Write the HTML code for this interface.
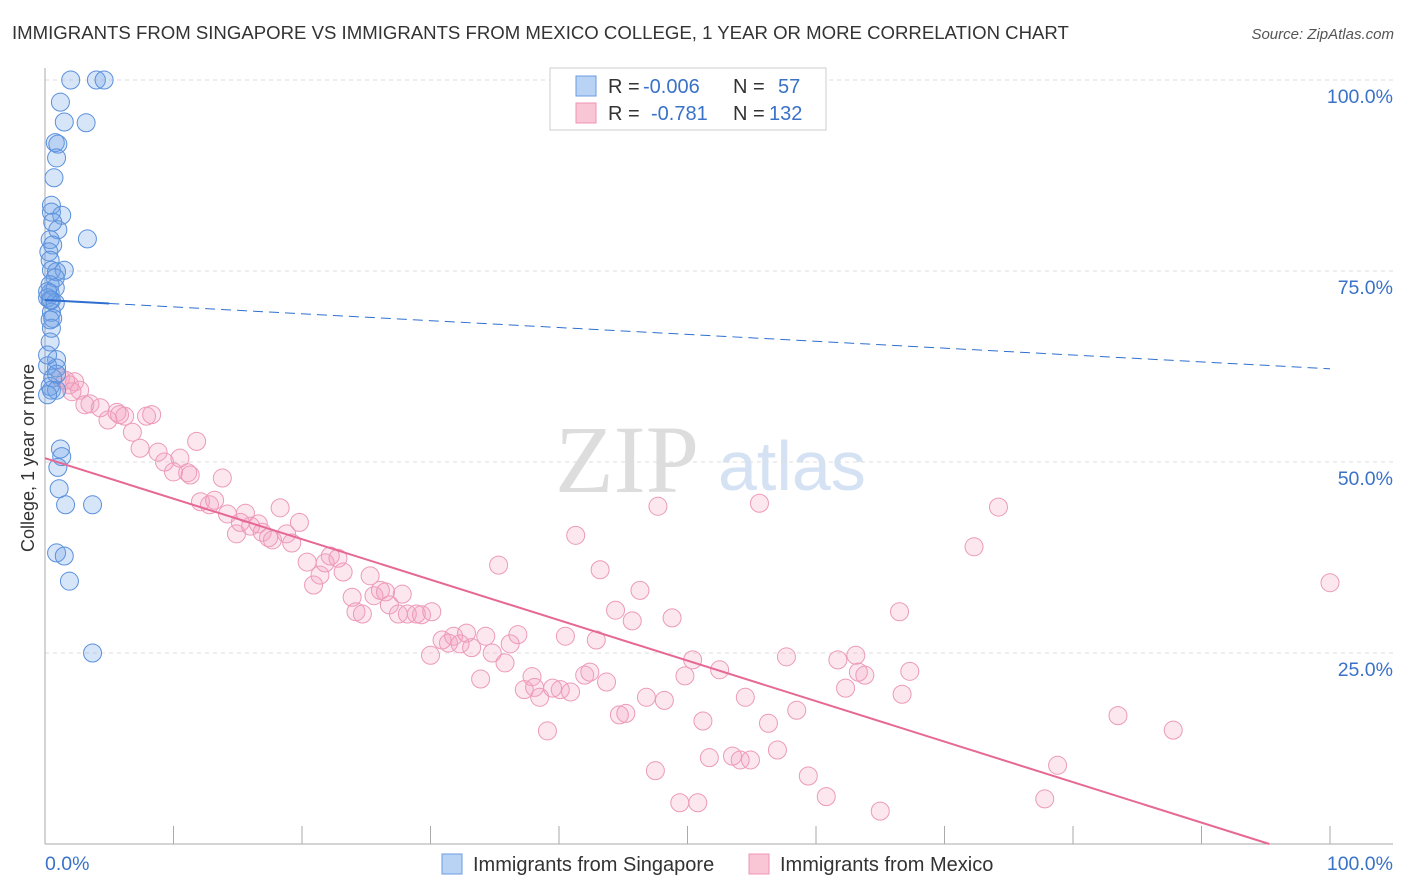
<!DOCTYPE html>
<html><head><meta charset="utf-8"><style>
body{margin:0;background:#fff;font-family:"Liberation Sans",sans-serif;}
#wrap{position:relative;width:1406px;height:892px;overflow:hidden;}
</style></head><body>
<div id="wrap">
<svg id="svg" width="1406" height="892" xmlns="http://www.w3.org/2000/svg">
<text x="12" y="39" font-size="18.6" fill="#333">IMMIGRANTS FROM SINGAPORE VS IMMIGRANTS FROM MEXICO COLLEGE, 1 YEAR OR MORE CORRELATION CHART</text>
<text x="1394" y="39" font-size="15" fill="#555" font-style="italic" text-anchor="end">Source: ZipAtlas.com</text>
<text x="555" y="492" font-size="96" fill="#ddd" font-family="Liberation Serif,serif">ZIP</text>
<text x="718" y="490" font-size="70" fill="#d4e2f4">atlas</text>
<text transform="translate(34,458) rotate(-90)" font-size="18" fill="#333" text-anchor="middle">College, 1 year or more</text>
<g id="grid"></g><g id="marks"></g>
<g>
<rect x="550" y="68" width="276" height="62" fill="#fff" stroke="#ccc"/>
<rect x="576" y="76" width="20" height="20" fill="#b9d3f5" stroke="#6a9be0"/>
<rect x="576" y="103" width="20" height="20" fill="#f9c6d6" stroke="#ee94b2"/>
<text x="608" y="93" font-size="20" fill="#333">R =</text>
<text x="643" y="93" font-size="20" fill="#3a72c8">-0.006</text>
<text x="733" y="93" font-size="20" fill="#333">N =</text>
<text x="778" y="93" font-size="20" fill="#3a72c8">57</text>
<text x="608" y="120" font-size="20" fill="#333">R =</text>
<text x="651" y="120" font-size="20" fill="#3a72c8">-0.781</text>
<text x="733" y="120" font-size="20" fill="#333">N =</text>
<text x="769" y="120" font-size="20" fill="#3a72c8">132</text>
</g>
<g>
<rect x="442" y="854" width="20" height="20" fill="#b9d3f5" stroke="#6a9be0"/>
<text x="473" y="871" font-size="20" fill="#333">Immigrants from Singapore</text>
<rect x="749" y="854" width="20" height="20" fill="#f9c6d6" stroke="#ee94b2"/>
<text x="780" y="871" font-size="20" fill="#333">Immigrants from Mexico</text>
</g>
</svg>
</div>
<script>
const yTicks=[25,50,75,100];
const yTickLabels=["25.0%","50.0%","75.0%","100.0%"];
const xTicks=[0,10,20,30,40,50,60,70,80,90,100];
const sgX=[2.0,4.0,4.6,1.2,1.5,3.2,0.8,1.0,0.9,0.7,0.5,1.3,0.5,1.0,0.6,3.3,0.4,0.6,0.3,0.4,0.5,1.5,0.9,0.8,0.4,0.8,0.4,0.2,0.5,0.8,0.5,0.6,0.5,0.4,0.9,0.2,0.9,0.6,0.4,0.5,0.9,1.2,1.3,1.0,1.1,1.6,3.7,0.9,1.5,1.9,3.7,0.2,0.4,0.2,0.9,0.2,0.4];
const sgY=[100,100,100,97.1,94.5,94.4,91.8,91.6,89.8,87.2,83.6,82.3,82.7,80.4,81.4,79.2,79.1,78.4,77.5,76.4,75.1,75.1,74.9,74.1,73.2,72.8,72.1,71.5,71.2,70.8,69.6,68.8,67.5,65.7,63.4,62.6,62.3,61.0,59.9,59.4,59.4,51.7,50.7,49.3,46.5,44.4,44.4,38.1,37.7,34.4,25.0,64.0,71.2,72.3,61.5,58.8,68.6];
const mxX=[1.2,1.6,1.9,2.3,2.7,2.1,3.5,3.1,4.3,4.9,5.6,5.8,6.2,6.8,7.4,7.9,8.3,8.8,9.3,10.0,10.5,11.1,11.8,11.3,12.1,12.8,13.2,13.8,14.2,14.9,15.2,15.6,16.0,16.6,16.9,17.4,17.7,18.3,18.8,19.2,19.8,20.4,20.9,21.4,21.8,22.2,22.8,23.2,23.9,24.2,24.7,25.3,25.6,26.1,26.5,26.8,27.5,27.8,28.2,28.9,29.3,30.1,30.0,30.9,31.4,31.8,32.3,32.8,33.2,33.9,34.3,34.8,35.3,35.8,36.2,36.8,37.9,37.3,38.1,38.5,39.1,39.5,40.1,40.5,40.9,41.3,42.0,42.4,42.9,43.2,43.7,44.4,44.7,45.2,45.7,46.3,46.8,47.5,47.7,48.2,48.8,49.4,49.8,50.4,50.8,51.2,51.7,52.5,53.5,54.1,54.5,54.9,55.6,56.3,57.0,57.7,58.5,59.4,60.8,61.7,62.3,63.1,63.3,63.8,65.0,66.5,66.7,67.3,72.3,74.2,77.8,78.8,83.5,87.8,100];
const mxY=[61.0,60.7,60.1,60.5,59.4,59.2,57.6,57.5,57.1,55.5,56.5,56.2,56.0,53.9,51.8,56.0,56.2,51.3,50.0,48.7,50.5,48.6,52.7,48.3,44.8,44.4,45.0,47.9,43.2,40.6,42.1,43.3,41.6,41.9,40.8,40.1,39.8,44.0,40.6,39.4,42.1,36.9,33.9,35.2,36.8,37.7,37.4,35.6,32.3,30.4,30.1,35.1,32.5,33.2,33.0,31.3,30.1,32.7,30.1,30.1,30.0,30.4,24.7,26.7,26.3,27.2,26.2,27.6,25.7,21.6,27.2,25.0,36.5,23.7,26.2,27.4,21.9,20.2,20.5,19.2,14.8,20.4,20.2,27.2,19.9,40.4,22.1,22.5,26.7,35.9,21.2,30.6,16.9,17.1,29.2,33.2,19.2,9.6,44.2,18.8,29.6,5.4,22.0,24.1,5.4,16.1,11.3,22.8,11.5,11.0,19.2,11.0,44.6,15.8,12.3,24.5,17.5,8.9,6.2,24.1,20.4,24.7,22.5,22.1,4.3,30.4,19.6,22.6,38.9,44.1,5.9,10.3,16.8,14.9,34.2];
const sgTrend=[71.2,62.2];
const mxTrend=[50.5,-0.53];
const NS="http://www.w3.org/2000/svg";
const X0=45,X1=1330,Y0=844,Y1=80;
function sx(v){return X0+(X1-X0)*v/100;}
function sy(v){return Y0-(Y0-Y1)*v/100;}
function mk(t,a,p){const e=document.createElementNS(NS,t);for(const k in a)e.setAttribute(k,a[k]);p.appendChild(e);return e;}
const grid=document.getElementById('grid'),marks=document.getElementById('marks');
yTicks.forEach((t,i)=>{
 const l=mk('line',{x1:X0,x2:1393,y1:sy(t),y2:sy(t),stroke:'#ddd','stroke-dasharray':'4,4'},grid);
 
 
 const tx=mk('text',{x:1393,y:sy(t)+23,'font-size':19.5,fill:'#3a72c8','text-anchor':'end'},grid);
 tx.textContent=yTickLabels[i];
 
 
});
const ax=mk('line',{x1:X0,x2:X0,y1:68,y2:Y0,stroke:'#aaa'},grid);


const bx=mk('line',{x1:X0,x2:1393,y1:Y0,y2:Y0,stroke:'#aaa'},grid);


xTicks.forEach(t=>{
 const l=mk('line',{x1:sx(t),x2:sx(t),y1:Y0-18,y2:Y0,stroke:'#aaa'},grid);
 
 
});
const xl=mk('text',{x:45,y:870,'font-size':19.5,fill:'#3a72c8'},grid);xl.textContent='0.0%';


const xr=mk('text',{x:1393,y:870,'font-size':19.5,fill:'#3a72c8','text-anchor':'end'},grid);xr.textContent='100.0%';


mxX.forEach((x,i)=>{
 const c=mk('circle',{cx:sx(x),cy:sy(mxY[i]),r:9,fill:'rgba(244,160,190,0.25)',stroke:'#ec9ab8','stroke-width':1},marks);
 
 
});
sgX.forEach((x,i)=>{
 const c=mk('circle',{cx:sx(x),cy:sy(sgY[i]),r:9,fill:'rgba(110,160,230,0.28)',stroke:'#5a90dc','stroke-width':1},marks);
 
 
});
const sgAt=x=>sgTrend[0]+(sgTrend[1]-sgTrend[0])*x/100;
const s1=mk('line',{x1:sx(0),y1:sy(sgAt(0)),x2:sx(5),y2:sy(sgAt(5)),stroke:'#2f6fcf','stroke-width':2},marks);


const s2=mk('line',{x1:sx(5),y1:sy(sgAt(5)),x2:sx(100),y2:sy(sgAt(100)),stroke:'#2f6fcf','stroke-width':1,'stroke-dasharray':'10,6'},marks);


const xEnd=-mxTrend[0]/mxTrend[1];
const m1=mk('line',{x1:sx(0),y1:sy(mxTrend[0]),x2:sx(xEnd),y2:sy(0),stroke:'#e66894','stroke-width':2},marks);


</script>
</body></html>
